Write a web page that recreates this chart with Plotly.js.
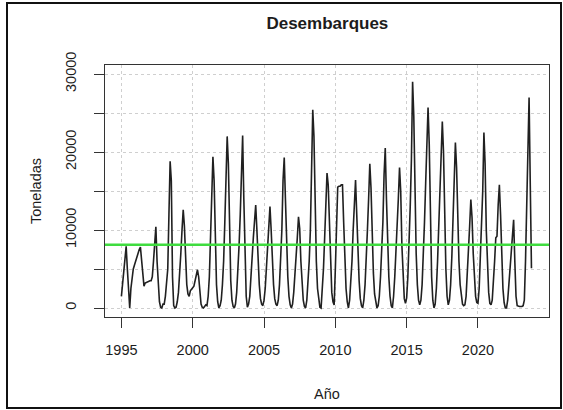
<!DOCTYPE html>
<html>
<head>
<meta charset="utf-8">
<script src="https://cdn.plot.ly/plotly-3.0.1.min.js"></script>
<style>
  html, body { margin: 0; padding: 0; background: #fff; }
  #wrap { position: relative; width: 563px; height: 410px; }
  #chart { width: 563px; height: 410px; }
  #frame { position: absolute; left: 6px; top: 2px; width: 556px; height: 407px;
           border: 2px solid #111; box-sizing: border-box; pointer-events: none; }
</style>
</head>
<body>
<div id="wrap"><div id="chart"></div><div id="frame"></div></div>
<script>
// Monthly landings (tonnes), Jan..Dec
const t1995 = [1500, 3000, 4500, 6000, 7900, 5000, 2000, 0, 2500, 4000, 5000, 5500];
const t1996 = [6000, 6800, 7200, 7500, 7800, 6000, 3500, 2800, 3200, 3300, 3400, 3500];
const t1997 = [3500, 3500, 4000, 6000, 8500, 10400, 6000, 2500, 800, 100, 0, 500];
const t1998 = [500, 1500, 3000, 5000, 12000, 18800, 16300, 4000, 300, 0, 100, 800];
const t1999 = [2000, 4000, 7000, 10000, 12600, 10500, 6000, 3000, 1800, 1500, 2200, 2500];
const t2000 = [2600, 2800, 3500, 4300, 4900, 4000, 2000, 500, 100, 0, 200, 400];
const t2001 = [300, 1500, 4000, 9000, 14000, 19400, 16300, 8000, 3000, 800, 0, 300];
const t2002 = [1000, 3000, 6000, 11000, 18500, 22000, 18500, 9000, 3500, 1000, 200, 0];
const t2003 = [500, 2000, 4500, 8000, 12000, 18700, 22100, 14000, 6000, 1500, 100, 500];
const t2004 = [1500, 3500, 6500, 9000, 11500, 13200, 10000, 6000, 3000, 1200, 500, 300];
const t2005 = [1000, 2500, 5000, 8000, 10700, 13000, 10000, 6000, 3000, 1200, 500, 300];
const t2006 = [1000, 3000, 6000, 10000, 16400, 19300, 14000, 8000, 4000, 1500, 400, 0];
const t2007 = [500, 2000, 4000, 6500, 9000, 11700, 10200, 6000, 3000, 1000, 200, 0];
const t2008 = [1000, 3000, 6000, 10000, 16000, 25400, 22000, 12000, 6000, 2500, 800, 100];
const t2009 = [0, 2000, 5000, 9000, 13000, 17300, 15800, 10000, 5000, 2000, 800, 400];
const t2010 = [5000, 11000, 15500, 15600, 15600, 15800, 15800, 11000, 6000, 2500, 800, 0];
const t2011 = [1000, 3000, 6000, 10000, 14200, 16400, 12000, 7000, 3500, 1200, 300, 0];
const t2012 = [1000, 3000, 6000, 10000, 14000, 18500, 15400, 9000, 4500, 1800, 500, 0];
const t2013 = [300, 1500, 4000, 7000, 11000, 17100, 20500, 14000, 8000, 4000, 1500, 300];
const t2014 = [0, 1500, 4000, 7000, 10000, 14000, 18000, 15000, 8000, 3500, 1200, 600];
const t2015 = [1300, 4000, 8000, 13000, 19000, 29000, 24600, 14000, 7000, 3000, 1000, 400];
const t2016 = [1000, 3000, 6500, 11000, 16000, 21000, 25700, 21000, 10000, 4000, 1000, 0];
const t2017 = [500, 2500, 6000, 10000, 15000, 20000, 23900, 20000, 10600, 5000, 1500, 400];
const t2018 = [1000, 3000, 6500, 11000, 15000, 21200, 18000, 11000, 6000, 3000, 1200, 500];
const t2019 = [300, 400, 1500, 4000, 7000, 10500, 13900, 11600, 7000, 3500, 1500, 700];
const t2020 = [600, 2500, 6000, 10000, 15000, 22500, 18500, 10000, 5000, 2000, 600, 400];
const t2021 = [1000, 3000, 6000, 9000, 9200, 13200, 15800, 12000, 6000, 2500, 700, 0];
const t2022 = [0, 1000, 3000, 5000, 7000, 9800, 11300, 6000, 1500, 300, 200, 200];
const t2023 = [200, 200, 300, 1000, 6000, 14000, 23100, 27000, 15800, 5100];

const anios = [1995, 1996, 1997, 1998, 1999, 2000, 2001, 2002, 2003, 2004, 2005, 2006, 2007, 2008,
               2009, 2010, 2011, 2012, 2013, 2014, 2015, 2016, 2017, 2018, 2019, 2020, 2021, 2022, 2023];
const series = [t1995, t1996, t1997, t1998, t1999, t2000, t2001, t2002, t2003, t2004, t2005, t2006,
                t2007, t2008, t2009, t2010, t2011, t2012, t2013, t2014, t2015, t2016, t2017, t2018,
                t2019, t2020, t2021, t2022, t2023];
const promedio = 8100;   // green reference line
const xTicks = [1995, 2000, 2005, 2010, 2015, 2020];
const yTicks = [0, 5000, 10000, 15000, 20000, 25000, 30000];
const yLabels = ['0', '', '10000', '', '20000', '', '30000'];

const xs = [], ys = [];
anios.forEach((a, i) => {
  series[i].forEach((v, m) => { xs.push(a + m / 12); ys.push(v); });
});

const font = 'Liberation Sans, Arial, sans-serif';
const txt = '#1c1c1c';

const trace = {
  x: xs, y: ys, type: 'scatter', mode: 'lines',
  line: { color: '#202020', width: 1.6 },
  hoverinfo: 'skip'
};

const layout = {
  width: 563, height: 410,
  margin: { l: 105, r: 14, t: 65, b: 93 },
  paper_bgcolor: '#fff', plot_bgcolor: '#fff',
  showlegend: false,
  font: { family: font, color: txt, size: 14 },
  title: { text: '<b>Desembarques</b>', x: 0.5815, xanchor: 'center', y: 0.944, yanchor: 'middle',
           font: { family: font, size: 17, color: txt } },
  xaxis: {
    range: [1993.85, 2024.98],
    tickvals: xTicks, ticktext: xTicks.map(String),
    ticks: 'outside', ticklen: 10, tickwidth: 1, tickcolor: '#333',
    showline: true, mirror: true, linecolor: '#333', linewidth: 1,
    showgrid: true, gridcolor: '#cfcfcf', griddash: 'dot', gridwidth: 1,
    zeroline: false,
    tickfont: { family: font, size: 14.5, color: txt },
    ticklabelstandoff: 10,
    title: { text: 'Año', font: { family: font, size: 14.5, color: txt }, standoff: 31 }
  },
  yaxis: {
    range: [-1154, 31154],
    tickvals: yTicks, ticktext: yLabels,
    ticks: 'outside', ticklen: 10, tickwidth: 1, tickcolor: '#333',
    tickangle: -90,
    showline: true, mirror: true, linecolor: '#333', linewidth: 1,
    showgrid: true, gridcolor: '#cfcfcf', griddash: 'dot', gridwidth: 1,
    zeroline: false,
    tickfont: { family: font, size: 14.5, color: txt },
    ticklabelstandoff: 12,
    title: { text: 'Toneladas', font: { family: font, size: 14.5, color: txt }, standoff: 18 }
  },
  shapes: [{
    type: 'line', xref: 'paper', x0: 0, x1: 1, yref: 'y', y0: promedio, y1: promedio,
    line: { color: '#3fdc3f', width: 2.5 }
  }]
};

Plotly.newPlot('chart', [trace], layout, { staticPlot: true, displayModeBar: false });
</script>
</body>
</html>
